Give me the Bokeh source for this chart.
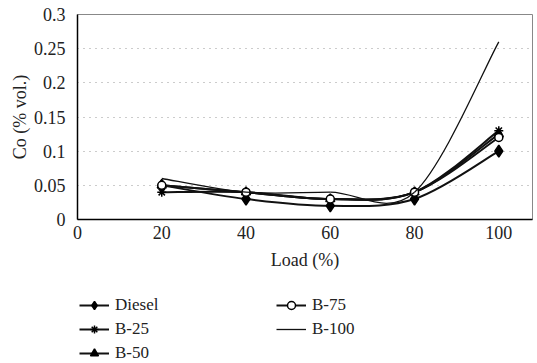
from bokeh.plotting import figure
from bokeh.models import Legend, LegendItem, FixedTicker, ColumnDataSource, Range1d
from bokeh.layouts import column
from bokeh.embed import file_html
from bokeh.resources import INLINE

loads = [20, 40, 60, 80, 100]
diesel = [0.05, 0.03, 0.02, 0.03, 0.10]
b25 = [0.04, 0.04, 0.03, 0.04, 0.13]
b50 = [0.05, 0.04, 0.03, 0.04, 0.125]
b75 = [0.05, 0.04, 0.03, 0.04, 0.12]
b100 = [0.06, 0.04, 0.04, 0.04, 0.26]

x_ticks = [0, 20, 40, 60, 80, 100]
y_ticks = [0, 0.05, 0.1, 0.15, 0.2, 0.25, 0.3]
y_tick_labels = ["0", "0.05", "0.1", "0.15", "0.2", "0.25", "0.3"]

FONT = "Liberation Serif"

p = figure(width=537, height=278, output_backend="svg", toolbar_location=None,
           x_range=Range1d(0, 108), y_range=Range1d(0, 0.3),
           min_border_left=77, min_border_top=14, min_border_right=5, min_border_bottom=59)

p.outline_line_color = "#888888"
p.outline_line_width = 1

for ax in (p.xaxis[0], p.yaxis[0]):
    ax.axis_line_color = "black"
    ax.axis_line_width = 1.5
    ax.major_tick_line_color = None
    ax.minor_tick_line_color = None
    ax.major_label_text_font = FONT
    ax.major_label_text_font_size = "18px"
    ax.major_label_text_color = "#222222"
    ax.axis_label_text_font = FONT
    ax.axis_label_text_font_size = "18px"
    ax.axis_label_text_font_style = "normal"
    ax.axis_label_text_color = "#222222"

p.xaxis.ticker = FixedTicker(ticks=x_ticks)
p.yaxis.ticker = FixedTicker(ticks=y_ticks)
p.yaxis.major_label_overrides = {t: l for t, l in zip(y_ticks, y_tick_labels)}
p.xaxis.axis_label = "Load (%)"
p.yaxis.axis_label = "Co (% vol.)"
p.xaxis.major_label_standoff = 0
p.yaxis.major_label_standoff = 6
p.xaxis.axis_label_standoff = 8
p.yaxis.axis_label_standoff = 1

p.xgrid.grid_line_color = None
p.ygrid.grid_line_color = "#999999"
p.ygrid.grid_line_dash = "1 5"
p.ygrid.grid_line_width = 1


def smooth_bezier(xs, ys, width, alpha=1.0):
    n = len(xs)
    x0, y0, x1, y1, cx0, cy0, cx1, cy1 = [], [], [], [], [], [], [], []
    for i in range(n - 1):
        ip = max(i - 1, 0)
        inn = min(i + 2, n - 1)
        x0.append(xs[i]); y0.append(ys[i])
        x1.append(xs[i + 1]); y1.append(ys[i + 1])
        cx0.append(xs[i] + (xs[i + 1] - xs[ip]) / 6)
        cy0.append(ys[i] + (ys[i + 1] - ys[ip]) / 6)
        cx1.append(xs[i + 1] - (xs[inn] - xs[i]) / 6)
        cy1.append(ys[i + 1] - (ys[inn] - ys[i]) / 6)
    src = ColumnDataSource(dict(x0=x0, y0=y0, x1=x1, y1=y1, cx0=cx0, cy0=cy0, cx1=cx1, cy1=cy1))
    p.bezier(x0="x0", y0="y0", x1="x1", y1="y1", cx0="cx0", cy0="cy0", cx1="cx1", cy1="cy1",
             source=src, line_color="#111111", line_width=width, line_alpha=alpha)


series = [
    ("Diesel", diesel, "diamond", "black", 12, 2.0),
    ("B-25", b25, "asterisk", "black", 9, 2.0),
    ("B-50", b50, "triangle", "black", 9, 2.0),
    ("B-75", b75, "circle", "white", 8, 2.0),
    ("B-100", b100, None, None, 0, 1.3),
]

# Legend figure below the chart
lf = figure(width=537, height=85, output_backend="svg", toolbar_location=None,
            x_range=Range1d(0, 1), y_range=Range1d(0, 1),
            x_axis_location=None, y_axis_location=None,
            min_border_left=0, min_border_right=0, min_border_top=0, min_border_bottom=0)
lf.grid.visible = False
lf.outline_line_color = None

items = []
for name, ys, marker, fill, size, lw in series:
    smooth_bezier(loads, ys, lw)
    if marker:
        p.scatter(loads, ys, marker=marker, size=size, line_color="black",
                  fill_color=fill, line_width=1.5)
    leg_line = lf.line(loads, ys, line_color="#111111", line_width=lw)
    leg_line.visible = False
    rends = [leg_line]
    if marker:
        s = lf.scatter(loads, ys, marker=marker, size=size, line_color="black",
                       fill_color=fill, line_width=1.5)
        s.visible = False
        rends.append(s)
    items.append(LegendItem(label=name, renderers=rends))

legend = Legend(items=items, nrows=3, orientation="vertical",
                location=(2, 0), glyph_width=30, glyph_height=20,
                spacing=4, label_text_font=FONT, label_text_font_size="17px",
                label_text_color="#222222", border_line_alpha=0,
                background_fill_alpha=0, padding=0, margin=0,
                label_standoff=6, label_width=157, click_policy="none")
lf.add_layout(legend, "center")

layout = column(p, lf, spacing=0)
open("out.html", "w").write(file_html(layout, INLINE))
